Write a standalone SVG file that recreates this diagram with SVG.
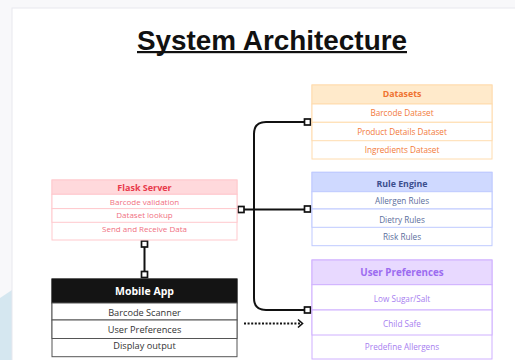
<svg xmlns="http://www.w3.org/2000/svg" width="515" height="360" viewBox="0 0 515 360">
<style>
text{font-family:"Open Sans","Noto Sans","Liberation Sans",sans-serif;text-anchor:middle;dominant-baseline:central}
.hd{font-weight:bold}
.fl rect{fill:#fff;stroke:#ffc9cd;stroke-width:1}
.fl .h{fill:#ffd9dc}
.fl text{fill:#f0707f;font-size:8px}
.fl .hd{fill:#e8394b;font-size:9px}
.mb rect{fill:#fff;stroke:#555;stroke-width:1}
.mb .h{fill:#141414;stroke:#141414}
.mb text{fill:#333;font-size:9.2px}
.mb .hd{fill:#fff;font-size:10.5px}
.ds rect{fill:#fff;stroke:#ffdcae;stroke-width:1}
.ds .h{fill:#ffeacb}
.ds text{fill:#f27a3a;font-size:8.2px}
.ds .hd{fill:#ef7230;font-size:8.8px}
.re rect{fill:#fff;stroke:#bfcaff;stroke-width:1}
.re .h{fill:#cfd9ff}
.re text{fill:#5b6e9c;font-size:8.2px}
.re .hd{fill:#3c4f8e;font-size:8.8px}
.up rect{fill:#fff;stroke:#cfb0ff;stroke-width:1}
.up .h{fill:#e8d9ff}
.up text{fill:#a77ef0;font-size:8.2px}
.up .hd{fill:#9c6cf0;font-size:9.8px}
.ln{fill:none;stroke:#111;stroke-width:2}
.sq{fill:#fff;stroke:#111;stroke-width:1.7}
</style>
<rect width="515" height="360" fill="#f8f8fa"/>
<path d="M0 298 L12 290 L12 360 L0 360 Z" fill="#d5e7f0"/>
<rect x="12" y="8" width="510" height="360" fill="#fff" stroke="#e8e8ee" stroke-width="1"/>
<g id="title">
<text x="272" y="40" style="font-family:'Liberation Sans',sans-serif;font-size:28px;font-weight:bold;fill:#111" textLength="270" lengthAdjust="spacingAndGlyphs">System Architecture</text>
<rect x="137" y="51" width="270" height="2.2" fill="#111"/>
</g>
<g id="connectors">
<path class="ln" d="M241 209.5 H307.5"/>
<path class="ln" d="M307.5 122 H266 Q254 122 254 134 V298 Q254 310 266 310 H307.5"/>
<path class="ln" d="M144.5 244 V274.5"/>
<path d="M244 323.5 H301" fill="none" stroke="#111" stroke-width="1.8" stroke-dasharray="2 1.6"/>
<path d="M298 319.5 L302.5 323.5 L298 327.5" fill="none" stroke="#111" stroke-width="1.6"/>
<rect class="sq" x="238" y="206.5" width="6" height="6"/>
<rect class="sq" x="304.5" y="206" width="6" height="6"/>
<rect class="sq" x="304.5" y="119" width="6" height="6"/>
<rect class="sq" x="304.5" y="307" width="6" height="6"/>
<rect class="sq" x="141.5" y="241" width="6" height="6"/>
<rect class="sq" x="141.5" y="271.5" width="6" height="6"/>
</g>
<g id="flask" class="fl">
<rect x="52" y="180" width="185" height="60"/>
<rect class="h" x="52" y="180" width="185" height="14.3"/>
<rect x="52" y="194.3" width="185" height="14.3"/>
<rect x="52" y="208.6" width="185" height="13.7"/>
<text class="hd" x="144.5" y="187.3">Flask Server</text>
<text x="144.5" y="201.3">Barcode validation</text>
<text x="144.5" y="214.6">Dataset lookup</text>
<text x="144.5" y="228.8">Send and Receive Data</text>
</g>
<g id="mobile" class="mb">
<rect x="52" y="279" width="185" height="77.7"/>
<rect class="h" x="52" y="279" width="185" height="24"/>
<rect x="52" y="303" width="185" height="17"/>
<rect x="52" y="320" width="185" height="18.5"/>
<text class="hd" x="144.5" y="290.5">Mobile App</text>
<text x="144.5" y="312.8">Barcode Scanner</text>
<text x="144.5" y="329.5">User Preferences</text>
<text x="144.5" y="345.5">Display output</text>
</g>
<g id="datasets" class="ds">
<rect x="312" y="85" width="180" height="74"/>
<rect class="h" x="312" y="85" width="180" height="19"/>
<rect x="312" y="104" width="180" height="18.3"/>
<rect x="312" y="122.3" width="180" height="18.4"/>
<text class="hd" x="402" y="94">Datasets</text>
<text x="402" y="112.5">Barcode Dataset</text>
<text x="402" y="131.7">Product Details Dataset</text>
<text x="402" y="149.8">Ingredients Dataset</text>
</g>
<g id="rules" class="re">
<rect x="312" y="172.3" width="180" height="73.4"/>
<rect class="h" x="312" y="172.3" width="180" height="19.4"/>
<rect x="312" y="191.7" width="180" height="17.3"/>
<rect x="312" y="209" width="180" height="18.3"/>
<text class="hd" x="402" y="184">Rule Engine</text>
<text x="402" y="200.2">Allergen Rules</text>
<text x="402" y="219.3">Dietry Rules</text>
<text x="402" y="236.4">Risk Rules</text>
</g>
<g id="prefs" class="up">
<rect x="312" y="260" width="180" height="99"/>
<rect class="h" x="312" y="260" width="180" height="24.7"/>
<rect x="312" y="284.7" width="180" height="25.3"/>
<rect x="312" y="310" width="180" height="25"/>
<text class="hd" x="402" y="272">User Preferences</text>
<text x="402" y="298.3">Low Sugar/Salt</text>
<text x="402" y="323.3">Child Safe</text>
<text x="402" y="346.7">Predefine Allergens</text>
</g>
</svg>
